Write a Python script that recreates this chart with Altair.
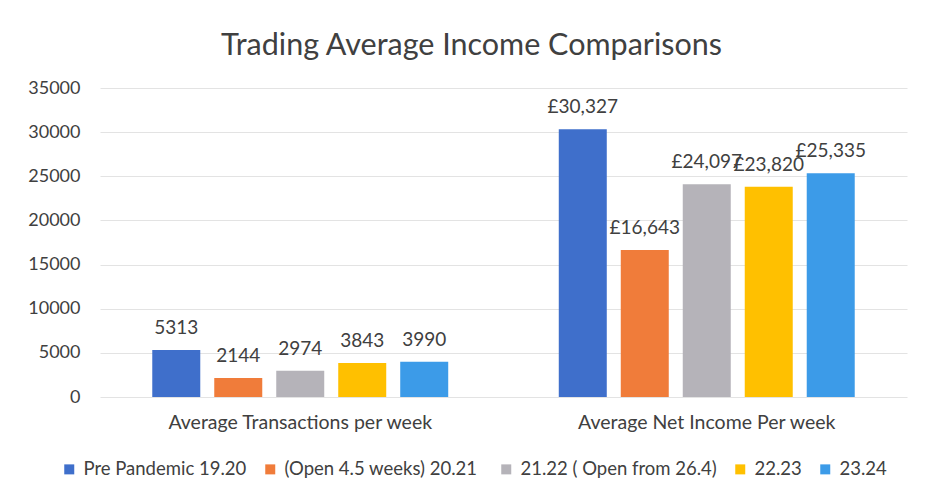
import altair as alt
import pandas as pd

categories = ["Average Transactions per week", "Average Net Income Per week"]
series = ["Pre Pandemic 19.20", " (Open 4.5 weeks)  20.21", "21.22 ( Open from 26.4)", "22.23", "23.24"]
transactions = [5313, 2144, 2974, 3843, 3990]
net_income = [30327, 16643, 24097, 23820, 25335]
colors = ["#3F6FCB", "#F07C3A", "#B5B3B9", "#FFC000", "#3C9BE8"]
y_ticks = [0, 5000, 10000, 15000, 20000, 25000, 30000, 35000]

rows = []
for s, v in zip(series, transactions):
    rows.append({"category": categories[0], "series": s, "value": v, "label": f"{v}"})
for s, v in zip(series, net_income):
    rows.append({"category": categories[1], "series": s, "value": v, "label": f"£{v:,}"})
df = pd.DataFrame(rows)

FONT = "Lato"
TXT = "#404040"

x = alt.X("category:N", sort=categories, title=None,
          scale=alt.Scale(paddingInner=0.272, paddingOuter=0.1286),
          axis=alt.Axis(labelAngle=0, ticks=False, domain=False, labelFontSize=19.5,
                        labelColor=TXT, labelFont=FONT, labelPadding=16, labelLimit=400))
xo = alt.XOffset("series:N", sort=series,
                 scale=alt.Scale(domain=series, paddingInner=0.226, paddingOuter=0))
y = alt.Y("value:Q", title=None,
          scale=alt.Scale(domain=[0, 35000]),
          axis=alt.Axis(values=y_ticks, ticks=False, domain=False, labelFontSize=18,
                        labelColor=TXT, labelFont=FONT, labelPadding=20,
                        gridColor="#E3E3E3", format="d"))
color = alt.Color("series:N", sort=series,
                  scale=alt.Scale(domain=series, range=colors),
                  legend=alt.Legend(title=None, orient="none", legendX=-40, legendY=372,
                                    direction="horizontal", columns=5, symbolType="square",
                                    symbolSize=100, symbolStrokeWidth=0, labelFontSize=18.5,
                                    labelFont=FONT, labelColor=TXT, columnPadding=14,
                                    symbolOffset=0, labelOffset=5, labelLimit=300))

base = alt.Chart(df)
bars = base.mark_bar(size=48).encode(x=x, xOffset=xo, y=y, color=color)
labels = base.mark_text(dy=-12, fontSize=19, font=FONT, color=TXT, baseline="bottom").encode(
    x=x, xOffset=xo, y=y, text="label:N")

chart = (bars + labels).properties(
    width=807, height=309,
    title=alt.TitleParams("Trading Average Income Comparisons", fontSize=30.5, font=FONT,
                          color=TXT, fontWeight="normal", anchor="middle", dx=-32, offset=18),
    autosize=alt.AutoSizeParams(type="none"),
    padding={"left": 92, "top": 80, "right": 20, "bottom": 90},
).configure(background="white").configure_view(stroke=None, strokeWidth=0)

chart.save("out.html", embed_options={"renderer": "svg", "actions": False})
